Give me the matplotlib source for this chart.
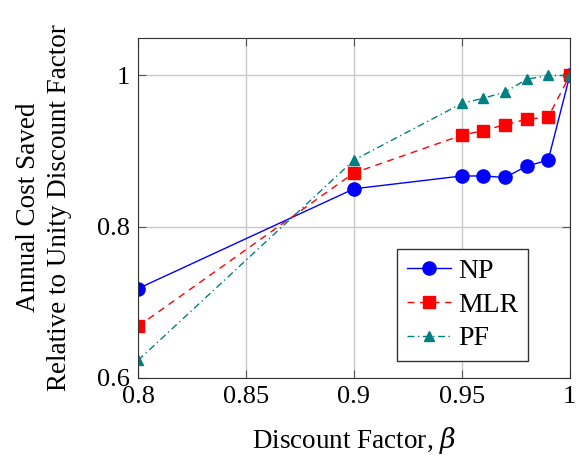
import matplotlib.pyplot as plt
from matplotlib.ticker import FuncFormatter

plt.rcParams['font.family'] = ['Liberation Serif', 'DejaVu Serif']
plt.rcParams['mathtext.fontset'] = 'dejavuserif'

beta = [0.8, 0.9, 0.95, 0.96, 0.97, 0.98, 0.99, 1.0]
np_vals = [0.718, 0.850, 0.867, 0.867, 0.865, 0.880, 0.888, 1.0]
mlr_vals = [0.668, 0.871, 0.921, 0.927, 0.935, 0.942, 0.945, 1.0]
pf_vals = [0.623, 0.888, 0.963, 0.970, 0.978, 0.995, 1.0, 1.0]


def fmt(v, pos):
    return ('%.2f' % v).rstrip('0').rstrip('.')


fig = plt.figure(figsize=(5.85, 4.57), dpi=100)
ax = fig.add_axes([0.236, 0.1735, 0.738, 0.744])

ax.plot(beta, np_vals, color='blue', lw=1, marker='o', ms=9.5, label='NP')
ax.plot(beta, mlr_vals, color='red', lw=1, ls=(0, (5, 4)), marker='s', ms=8.5, label='MLR')
ax.plot(beta, pf_vals, color='teal', lw=1, ls=(0, (5, 2.5, 1, 2.5)), marker='^', ms=7.5, label='PF')

ax.set_xlim(0.8, 1.0)
ax.set_ylim(0.6, 1.05)
ax.set_xticks([0.8, 0.85, 0.9, 0.95, 1.0])
ax.set_yticks([0.6, 0.8, 1.0])
ax.xaxis.set_major_formatter(FuncFormatter(fmt))
ax.yaxis.set_major_formatter(FuncFormatter(fmt))
ax.grid(color='#c8c8c8', lw=1)
ax.set_axisbelow(True)
ax.tick_params(direction='in', top=True, right=True, length=6, color='#555555', labelsize=19, pad=6)
for s in ax.spines.values():
    s.set_color('#333333')

ax.set_xlabel(r'Discount Factor, $\beta$', fontsize=19.5, labelpad=12)
ax.set_ylabel('Annual Cost Saved\nRelative to Unity Discount Factor', fontsize=19.5, linespacing=1.3, labelpad=18)

leg = ax.legend(loc='lower right', bbox_to_anchor=(0.903, 0.049), fontsize=20, frameon=True,
                fancybox=False, edgecolor='#333333', framealpha=1, handlelength=1.6,
                borderpad=0.35, labelspacing=0.3, handletextpad=0.25, borderaxespad=0)
leg.get_frame().set_linewidth(1)

fig.savefig('out.png', dpi=100)
